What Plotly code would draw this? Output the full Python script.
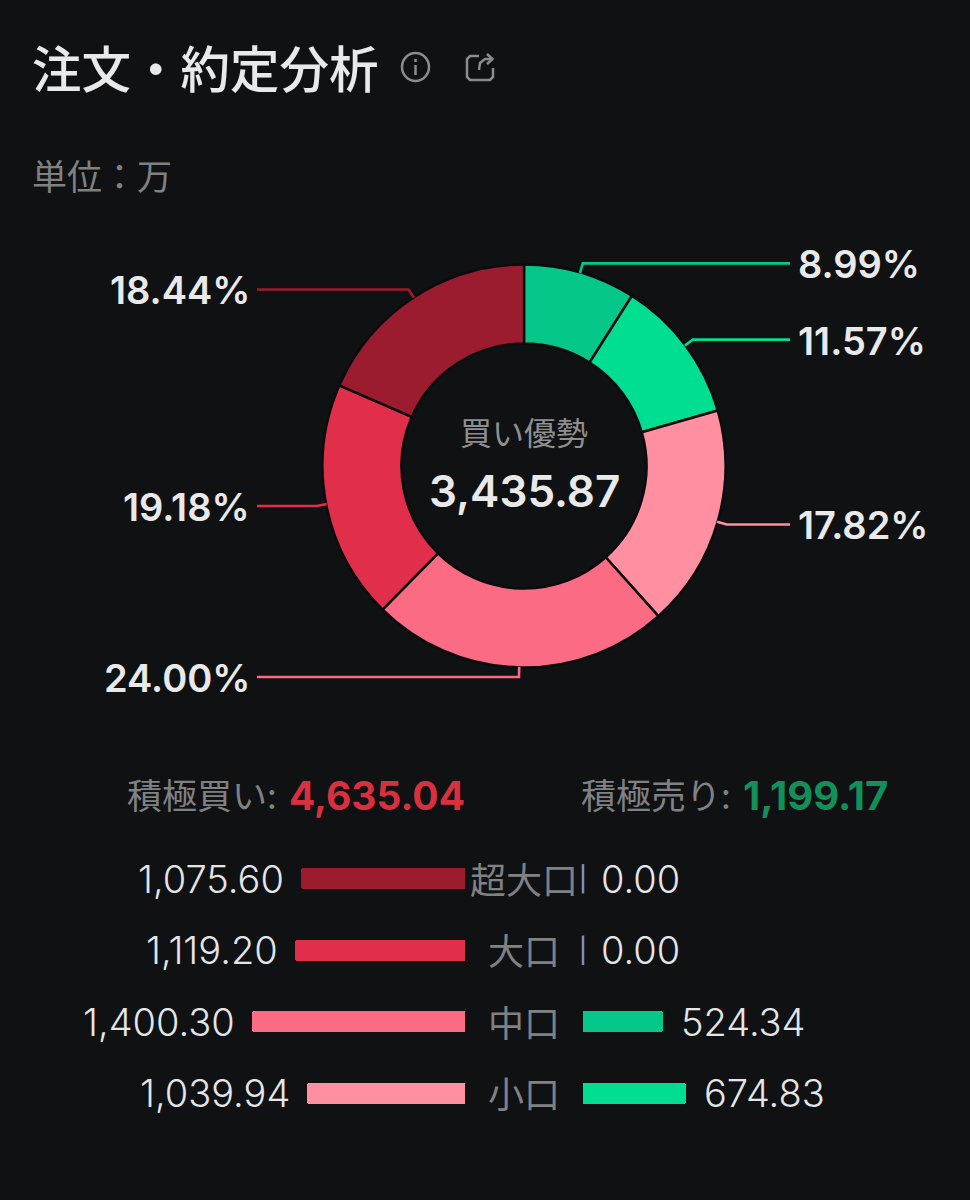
import math
import plotly.graph_objects as go

W, H = 970, 1200
BG = "#0F1113"
LATIN = "Inter, 'Noto Sans CJK JP', sans-serif"
CJK = "'Noto Sans CJK JP', sans-serif"

# ---- data ----
pie_labels = ["超大口売り", "大口売り", "小口買い", "中口買い", "大口買い", "超大口買い"]
pie_percent = [8.99, 11.57, 17.82, 24.00, 19.18, 18.44]
pie_colors = ["#05C78A", "#00DE92", "#FF8FA1", "#FC6B84", "#E12E4B", "#9B1C2F"]

categories = ["超大口", "大口", "中口", "小口"]
buy_values = [1075.60, 1119.20, 1400.30, 1039.94]
sell_values = [0.00, 0.00, 524.34, 674.83]
buy_colors = ["#9B1C2F", "#E12E4B", "#FC6B84", "#FF8FA1"]
sell_colors = ["#7F8DB0", "#7F8DB0", "#05C78A", "#00DE92"]

center_title = "買い優勢"
center_value = "3,435.87"
buy_total = "4,635.04"
sell_total = "1,199.17"

# ---- layout helpers ----
px = lambda v: v / W
py = lambda v: 1 - v / H
CX, CY, R = 524, 466, 201
RD = 201.5
SCALE = 213 / 1400.30
ROW = 71.5

fig = go.Figure()

fig.add_trace(go.Pie(
    values=pie_percent, labels=pie_labels, sort=False, direction="clockwise",
    rotation=0, hole=0.608, textinfo="none", showlegend=False,
    marker=dict(colors=pie_colors, line=dict(color="#0B0C0E", width=2.5)),
    domain=dict(x=[px(CX - RD), px(CX + RD)], y=[py(CY + RD), py(CY - RD)]),
))

fig.add_trace(go.Bar(
    x=buy_values, y=categories, orientation="h", width=21 / ROW, xaxis="x", yaxis="y",
    marker=dict(color=buy_colors, cornerradius=3, line=dict(width=0)), showlegend=False,
))
nz = [i for i, v in enumerate(sell_values) if v > 0]
z = [i for i, v in enumerate(sell_values) if v == 0]
fig.add_trace(go.Bar(
    x=[sell_values[i] for i in nz], y=[categories[i] for i in nz], orientation="h",
    width=21 / ROW, xaxis="x2", yaxis="y",
    marker=dict(color=[sell_colors[i] for i in nz], cornerradius=3, line=dict(width=0)),
    showlegend=False,
))
fig.add_trace(go.Scatter(
    x=[sell_values[i] for i in z], y=[categories[i] for i in z], mode="markers",
    xaxis="x2", yaxis="y", showlegend=False, cliponaxis=False,
    marker=dict(symbol="line-ns", size=21, color=sell_colors[0],
                line=dict(width=2.5, color=sell_colors[0])),
))

annotations, shapes = [], []


def text(x, y, s, size, color, anchor="left", family=LATIN, weight=None):
    annotations.append(dict(
        x=px(x), y=py(y), xref="paper", yref="paper", text=s, showarrow=False,
        xanchor=anchor, yanchor="middle",
        font=dict(size=size, color=color, family=family, weight=weight),
    ))


# header
text(30, 67, "注文・約定分析", 49.5, "#E9E9EA", family=CJK, weight=500)
text(30, 174, "単位：万", 35, "#808183", family=CJK)

ICON = "#8B8C8E"
shapes.append(dict(type="circle", xref="paper", yref="paper", x0=px(402), x1=px(429), y0=py(81), y1=py(53),
                   line=dict(color=ICON, width=2.5)))
icon_paths = [
    [(415.5, 65), (415.5, 75)],
    [(415.5, 59), (415.5, 62)],
    [(479, 56), (470, 56), (467, 59), (467, 77), (470, 80), (490, 80), (493, 77), (493, 68)],
    [(479, 70), (480, 63), (485, 59), (492, 59)],
    [(487, 54), (492.5, 59), (487, 64)],
]


def path_of(points):
    return "M " + " L ".join(f"{px(a):.5f},{py(b):.5f}" for a, b in points)


for pts in icon_paths:
    shapes.append(dict(type="path", xref="paper", yref="paper", path=path_of(pts),
                       line=dict(color=ICON, width=2.5)))

# centre
text(CX, 431, center_title, 32, "#8E8F91", "center", CJK)
text(CX, 491, center_value, 44, "#E9E9EA", "center", weight=600)

# leader lines and percent labels, positioned from the slice mid-angles
cum = 0.0
total = sum(pie_percent)
for val, col in zip(pie_percent, pie_colors):
    mid = (cum + val / 2) / total * 2 * math.pi
    cum += val
    sx, sy = CX + R * math.sin(mid), CY - R * math.cos(mid)
    ex, ey = CX + (R + 10) * math.sin(mid), CY - (R + 10) * math.cos(mid)
    right = math.sin(mid) > 0
    tx = 790 if right else 257
    shapes.append(dict(type="path", xref="paper", yref="paper",
                       path=path_of([(sx, sy), (ex, ey), (tx, ey)]),
                       line=dict(color=col, width=2.6)))
    text(796 if right else 252, ey + 1, f"{val:.2f}%", 38, "#E9E9EA",
         "left" if right else "right", weight=600)

# totals
text(279, 793, "積極買い:", 35, "#808183", "right", CJK)
text(287, 795, buy_total, 39, "#D9303F", weight=700)
text(733, 793, "積極売り:", 35, "#808183", "right", CJK)
text(741, 795, sell_total, 40, "#13905A", weight=700)

# row labels and values
for c, b, s in zip(categories, buy_values, sell_values):
    annotations.append(dict(x=px(CX), xref="paper", y=c, yref="y", text=c, showarrow=False,
                            xanchor="center", yanchor="middle", yshift=1,
                            font=dict(size=36, color="#808183", family=CJK)))
    annotations.append(dict(x=b, xref="x", y=c, yref="y", text=f"{b:,.2f}", showarrow=False,
                            xanchor="right", yanchor="middle", xshift=-15,
                            font=dict(size=38, color="#E4E5E6", family=LATIN, weight=300)))
    annotations.append(dict(x=s, xref="x2", y=c, yref="y", text=f"{s:,.2f}", showarrow=False,
                            xanchor="left", yanchor="middle", xshift=16,
                            font=dict(size=38, color="#E4E5E6", family=LATIN, weight=300)))

hidden = dict(visible=False, fixedrange=True)
fig.update_layout(
    width=W, height=H, margin=dict(l=0, r=0, t=0, b=0),
    paper_bgcolor=BG, plot_bgcolor=BG, showlegend=False, hovermode=False, bargap=0,
    xaxis=dict(domain=[0, px(465)], range=[465 / SCALE, 0], **hidden),
    xaxis2=dict(domain=[px(583), 1], range=[0, (W - 583) / SCALE], **hidden),
    yaxis=dict(domain=[py(1129), py(843)], categoryorder="array", categoryarray=categories,
               autorange="reversed", **hidden),
    annotations=annotations, shapes=shapes,
)

fig.write_html("out.html", config={"displayModeBar": False},
               post_script="document.body.style.margin='0';")
